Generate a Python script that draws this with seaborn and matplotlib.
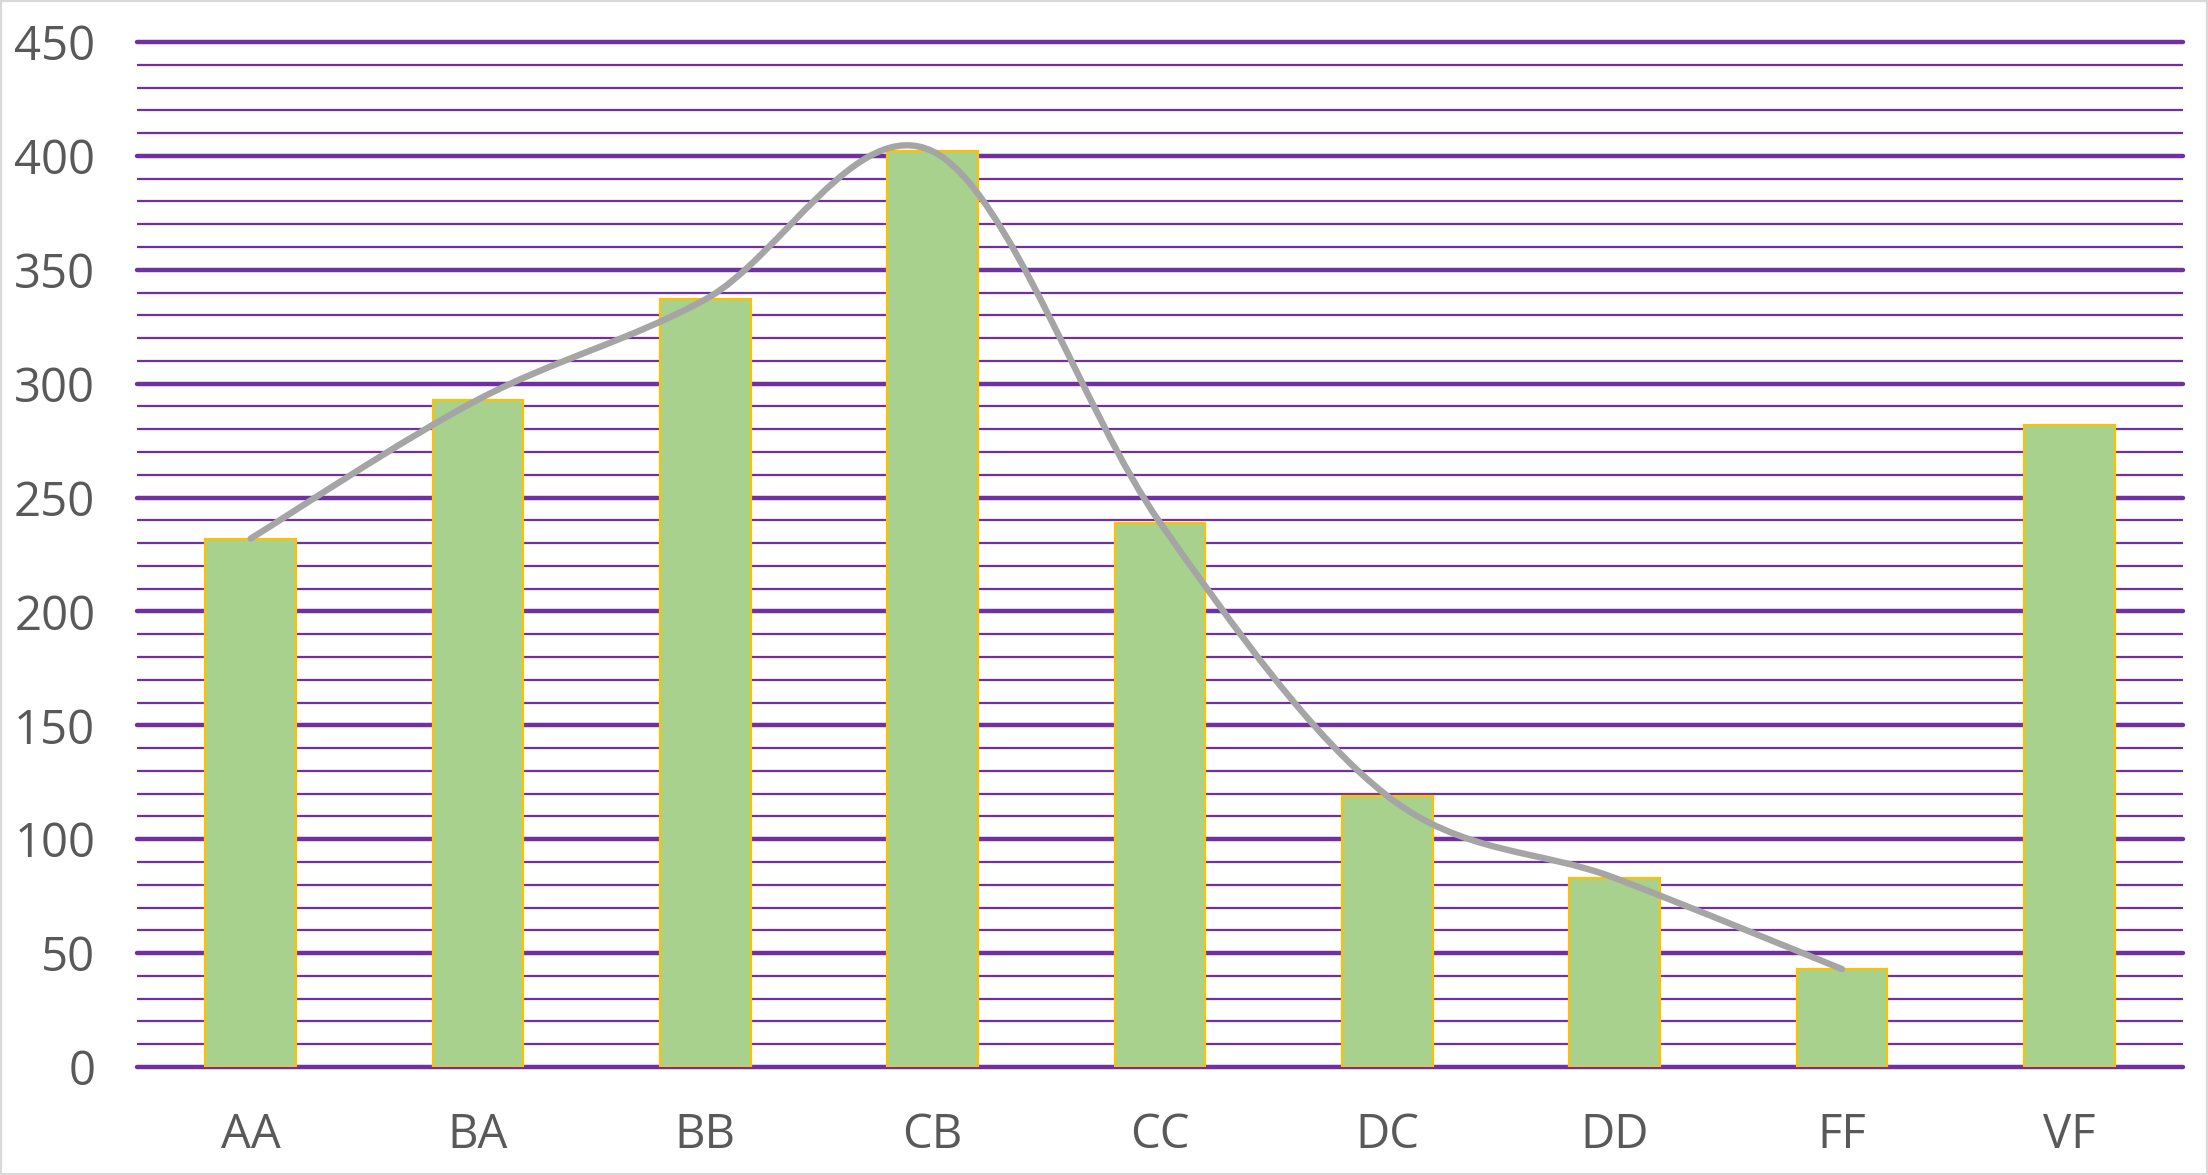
import numpy as np
import pandas as pd
import seaborn as sns
import matplotlib.pyplot as plt
from matplotlib.path import Path
from matplotlib.patches import PathPatch, Rectangle
from matplotlib.ticker import MultipleLocator

# chart data
categories = ["AA", "BA", "BB", "CB", "CC", "DC", "DD", "FF", "VF"]
bar_values = [232, 293, 337, 402, 239, 119, 83, 43, 282]
line_categories = ["AA", "BA", "BB", "CB", "CC", "DC", "DD", "FF"]
line_values = [232, 293, 337, 402, 239, 119, 83, 43]
y_max = 450


def smooth_path(xs, ys):
    # Excel-style smoothed line: cubic Bezier segments (Catmull-Rom control points)
    pts = np.column_stack([xs, ys]).astype(float)
    padded = np.vstack([pts[0], pts, pts[-1]])
    verts = [pts[0]]
    codes = [Path.MOVETO]
    for i in range(len(pts) - 1):
        p0, p1, p2, p3 = padded[i], padded[i + 1], padded[i + 2], padded[i + 3]
        c1 = p1 + (p2 - p0) / 6
        c2 = p2 - (p3 - p1) / 6
        verts += [c1, c2, p2]
        codes += [Path.CURVE4] * 3
    return Path(verts, codes)


sns.set_style("white")
plt.rcParams["font.family"] = ["Open Sans", "DejaVu Sans"]

fig = plt.figure(figsize=(22.08, 11.75), dpi=100)
ax = fig.add_axes([137 / 2208, 1 - 1067 / 1175, 2046 / 2208, 1025 / 1175])

df = pd.DataFrame({"category": categories, "value": bar_values})
sns.barplot(
    data=df,
    x="category",
    y="value",
    order=categories,
    color="#A9D18E",
    saturation=1,
    edgecolor="#FFC000",
    linewidth=1.6,
    width=0.4,
    ax=ax,
    zorder=3,
)

# smoothed grey line over the bars
line_x = [categories.index(c) for c in line_categories]
ax.add_patch(
    PathPatch(
        smooth_path(line_x, line_values),
        facecolor="none",
        edgecolor="#A5A5A5",
        lw=4.6,
        capstyle="round",
        zorder=4,
    )
)

ax.set_xlim(-0.5, len(categories) - 0.5)
ax.set_ylim(0, y_max)
ax.yaxis.set_major_locator(MultipleLocator(50))
ax.yaxis.set_minor_locator(MultipleLocator(10))
ax.set_axisbelow(True)
ax.grid(axis="y", which="major", color="#7030A0", lw=3.2)
ax.grid(axis="y", which="minor", color="#7030A0", lw=1.6)
ax.grid(axis="x", visible=False)
for t in ax.yaxis.get_major_ticks():
    t.gridline.set_clip_on(False)

ax.set_xlabel("")
ax.set_ylabel("")
ax.tick_params(axis="both", which="both", length=0, labelsize=34, labelcolor="#595959")
ax.tick_params(axis="y", pad=30)
ax.tick_params(axis="x", pad=32)
sns.despine(ax=ax, left=True, bottom=True)

fig.patches.append(
    Rectangle((0, 0), 1, 1, transform=fig.transFigure, fill=False, edgecolor="#D9D9D9", lw=3)
)

fig.savefig("out.png", dpi=100)
